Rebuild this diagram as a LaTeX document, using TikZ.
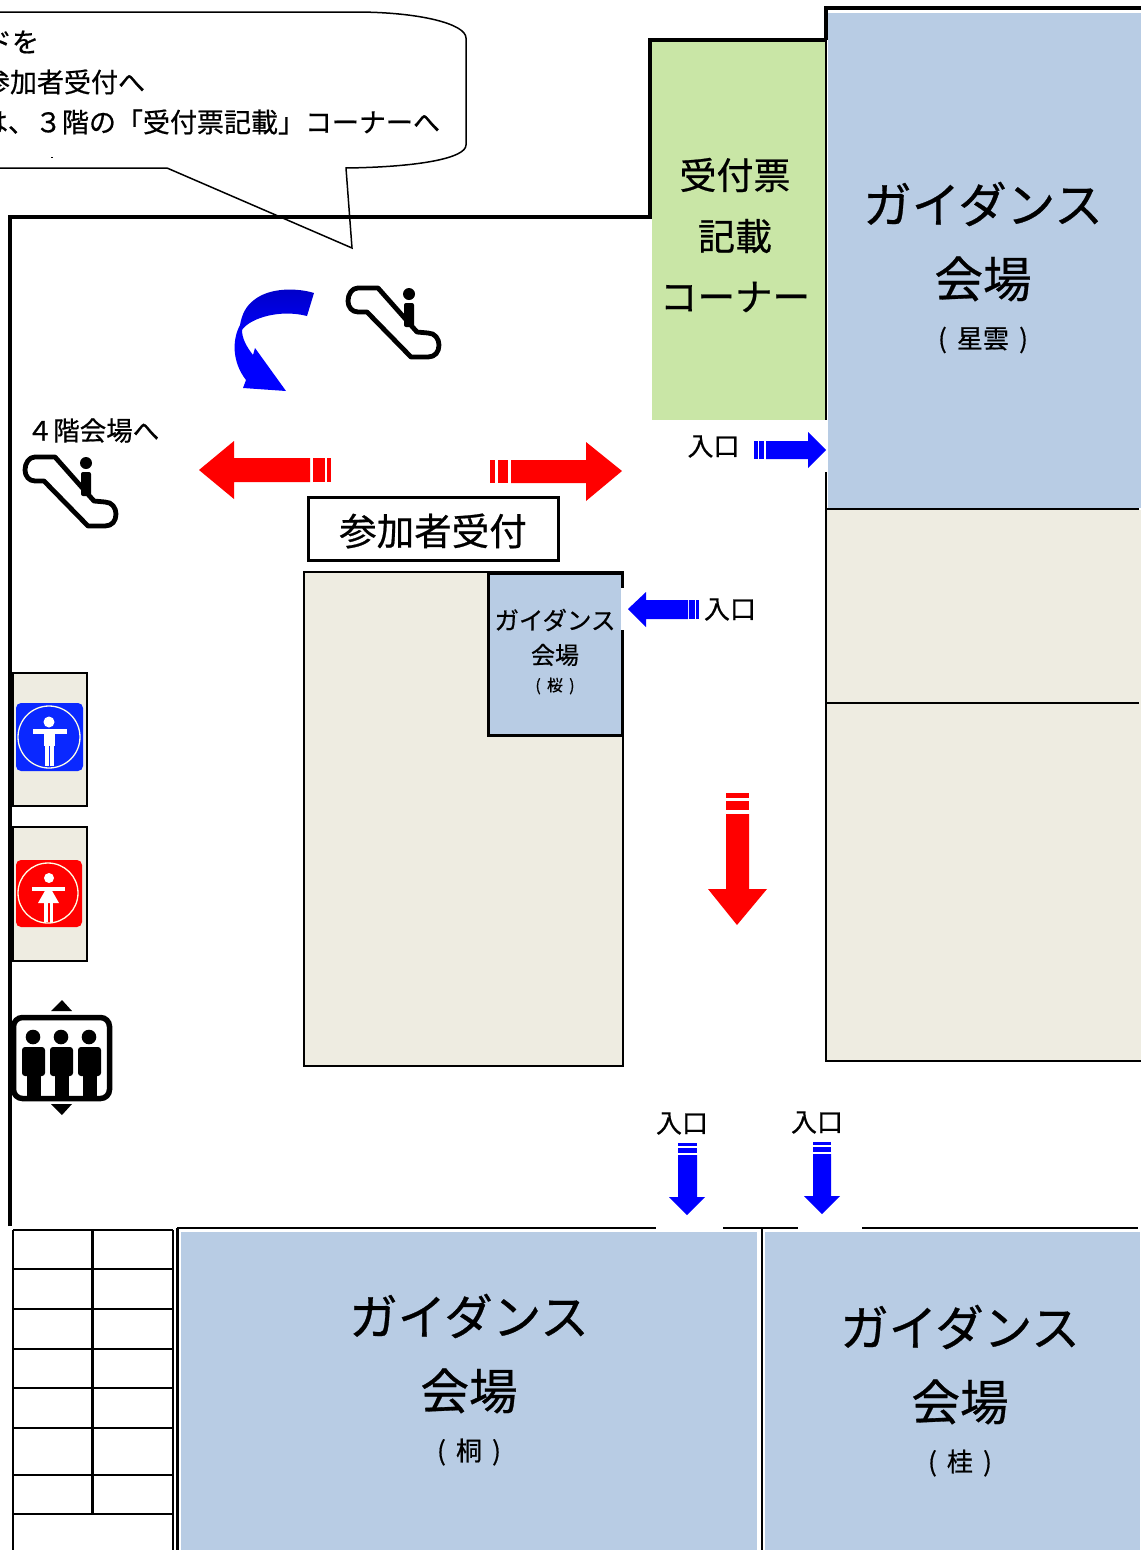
\documentclass[tikz,border=0pt]{standalone}
\usepackage{fontspec}
\setmainfont{Noto Sans CJK JP}[RawFeature={embolden=0.6}]
\newcommand{\fsz}[1]{\fontsize{#1pt}{#1pt}\selectfont}
\definecolor{hallblue}{HTML}{B8CCE4}
\definecolor{cornergreen}{HTML}{C9E6A6}
\definecolor{roombeige}{HTML}{EEECE1}
\definecolor{wcblue}{HTML}{0A28FF}
\definecolor{arrowblue}{HTML}{0000FF}
\definecolor{arrowred}{HTML}{FF0000}
\tikzset{
  wall/.style={draw=black,line width=3.5pt},
  thinwall/.style={draw=black,line width=1.8pt},
  roomline/.style={draw=black,line width=2.6pt},
  lbl/.style={inner sep=0pt,outer sep=0pt,text=black,align=center},
  bluefill/.style={fill=arrowblue},
  redfill/.style={fill=arrowred},
  whitefig/.style={fill=white},
  esc/.style={draw=black,line width=4.8pt,line join=round,line cap=round}
}
\newcommand{\escicon}[2]{%
  \begin{scope}[shift={(#1,#2)}]
    \draw[esc] (378,288) -- (417,332) -- (428,333)
      .. controls (435,333) and (439,339) .. (439,345)
      .. controls (439,352) and (435,357) .. (428,357)
      -- (411,357) -- (367,312) -- (358,312)
      .. controls (352,312) and (348,307) .. (348,301)
      .. controls (348,294) and (352,288) .. (358,288) -- cycle;
    \fill[black] (409,294) circle[radius=6];
    \fill[black,rounded corners=2pt] (404,303) rectangle (414,327);
  \end{scope}}
\begin{document}
\begin{tikzpicture}[x=1pt,y=-1pt]
\useasboundingbox (0,0) rectangle (1147,1550);
\fill[white] (0,0) rectangle (1147,1550);

% callout
\draw[black,line width=1.5pt] (-5,12) -- (355,12)
  .. controls (420,12) and (466,24) .. (466,38) -- (466,145)
  .. controls (466,158) and (420,167) .. (346,168)
  -- (352,248) -- (167,168) -- (-5,168);
\node[lbl,anchor=east] (c1) at (39,42) {\fsz{27}ドを};
\node[lbl,anchor=east] (c2) at (145,82) {\fsz{27}参加者受付へ};
\node[lbl,anchor=east] (c3) at (440,122) {\fsz{27}は、３階の「受付票記載」コーナーへ};
\fill[black] (51,156.5) rectangle (52.5,158);

% rooms
\fill[hallblue] (828,13) rectangle (1141,508);
\fill[cornergreen] (652,41) rectangle (826,420);
\fill[roombeige] (827,510) rectangle (1141,1061);
\fill[hallblue] (181,1232) rectangle (757,1550);
\fill[hallblue] (765,1232) rectangle (1140,1550);

% walls
\draw[wall] (10,1226) -- (10,217) -- (650,217) -- (650,40) -- (826,40);
\draw[wall] (1141,8) -- (826,8) -- (826,40);
\draw[thinwall] (826,40) -- (826,420);
\draw[thinwall] (826,472) -- (826,1061) -- (1141,1061);
\draw[black,line width=1.6pt] (827,509) -- (1139,509);
\draw[black,line width=1.6pt] (827,703) -- (1139,703);

% central block
\draw[roomline,fill=roombeige] (304,572) rectangle (623,1066);
\draw[draw=black,line width=3pt,fill=hallblue] (488,573) rectangle (622.5,735);
\fill[white] (621,588) rectangle (626,630);
\node[lbl,draw=black,line width=2.6pt,fill=white,minimum width=250pt,minimum height=63pt] (recept) at (433.5,529) {};
\node[lbl] (recepttext) at (433,531) {\fsz{37.5}参加者受付};

% bottom walls
\draw[black,line width=1.6pt] (177,1228) -- (656,1228);
\draw[black,line width=1.6pt] (723,1228) -- (798,1228);
\draw[black,line width=1.6pt] (862,1228) -- (1138,1228);
\draw[wall] (177.5,1228) -- (177.5,1550);
\draw[black,line width=2.4pt] (762,1228) -- (762,1550);

% stairs
\foreach \yy in {1230,1269,1309,1349,1388,1428,1475,1514}
  \draw[black,line width=2.7pt] (13,\yy) -- (173,\yy);
\draw[black,line width=2.7pt] (13,1230) -- (13,1550);
\draw[black,line width=2.7pt] (173,1230) -- (173,1550);
\draw[black,line width=2.7pt] (92.5,1230) -- (92.5,1514);

% labels
\node[lbl] (h1a) at (983,204) {\fsz{48.5}ガイダンス};
\node[lbl] (h1b) at (983,279) {\fsz{48.5}会場};
\node[lbl] (h1c) at (983,340) {\fsz{26}( \,星雲\, )};
\node[lbl] (g1) at (735,175) {\fsz{37}受付票};
\node[lbl] (g2) at (735,236) {\fsz{37}記載};
\node[lbl] (g3) at (735,297) {\fsz{37.5}コーナー};
\node[lbl] (h2a) at (555,620) {\fsz{24.5}ガイダンス};
\node[lbl] (h2b) at (555,655) {\fsz{24}会場};
\node[lbl] (h2c) at (555,686) {\fsz{16}( \,桜\, )};
\node[lbl] (h3a) at (469,1316) {\fsz{48.5}ガイダンス};
\node[lbl] (h3b) at (469,1391) {\fsz{48.5}会場};
\node[lbl] (h3c) at (469,1452) {\fsz{26}( \,桐\, )};
\node[lbl] (h4a) at (960,1327) {\fsz{48.5}ガイダンス};
\node[lbl] (h4b) at (960,1402) {\fsz{48.5}会場};
\node[lbl] (h4c) at (960,1463) {\fsz{26}( \,桂\, )};
\node[lbl] (e1) at (713.5,446.5) {\fsz{26}入口};
\node[lbl] (e2) at (730,609.5) {\fsz{26}入口};
\node[lbl] (e3) at (682,1123.5) {\fsz{26}入口};
\node[lbl] (e4) at (817,1122.5) {\fsz{26}入口};
\node[lbl] (f4) at (93,430.5) {\fsz{26.5}４階会場へ};

% red arrows
\fill[redfill] (199,470) -- (234,441) -- (234,458) -- (310,458) -- (310,482) -- (234,482) -- (234,499) -- cycle;
\fill[redfill] (313,458) rectangle (325,482);
\fill[redfill] (327,458) rectangle (331,482);
\fill[redfill] (622,471) -- (586,442) -- (586,460) -- (511,460) -- (511,483) -- (586,483) -- (586,501) -- cycle;
\fill[redfill] (490,460) rectangle (495,483);
\fill[redfill] (498,460) rectangle (508,483);
\fill[redfill] (737,925) -- (708,889) -- (726,889) -- (726,814) -- (749,814) -- (749,889) -- (767,889) -- cycle;
\fill[redfill] (726,793) rectangle (749,798);
\fill[redfill] (726,801) rectangle (749,810);

% blue arrows
\fill[bluefill] (826,450) -- (808,432) -- (808,441) -- (766,441) -- (766,459) -- (808,459) -- (808,468) -- cycle;
\fill[bluefill] (754,441) rectangle (757.5,459);
\fill[bluefill] (759,441) rectangle (764,459);
\fill[bluefill] (628,609) -- (646,592) -- (646,600) -- (688,600) -- (688,619) -- (646,619) -- (646,627) -- cycle;
\fill[bluefill] (689,600) rectangle (695,619);
\fill[bluefill] (696,600) rectangle (699,619);
\fill[bluefill] (687,1215) -- (669,1197) -- (678,1197) -- (678,1155) -- (697,1155) -- (697,1197) -- (705,1197) -- cycle;
\fill[bluefill] (678,1143) rectangle (697,1146);
\fill[bluefill] (678,1148) rectangle (697,1153);
\fill[bluefill] (822,1214) -- (804,1196) -- (813,1196) -- (813,1154) -- (831,1154) -- (831,1196) -- (840,1196) -- cycle;
\fill[bluefill] (813,1142) rectangle (831,1145);
\fill[bluefill] (813,1147) rectangle (831,1152);

% curved arrow
\shade[top color=arrowblue!78!black,bottom color=arrowblue,middle color=arrowblue]
  (314,293) .. controls (298,288) and (270,287) .. (254,300)
  .. controls (246,306) and (242,314) .. (240,325)
  .. controls (232,340) and (232,362) .. (246,380)
  -- (243,388) -- (286,391) -- (255,348) -- (253,355)
  .. controls (246,346) and (242,338) .. (242,330)
  .. controls (250,318) and (280,309) .. (307,316) -- cycle;

% escalators
\escicon{0}{0}
\escicon{-323}{169}

% WC boxes
\draw[roomline,fill=roombeige] (13,673) rectangle (87,806);
\draw[roomline,fill=roombeige] (13,827) rectangle (87,961);
\fill[wcblue,rounded corners=5pt] (16,703) rectangle (83,771);
\fill[arrowred,rounded corners=5pt] (16,860) rectangle (82,927);
\draw[white!90!yellow,line width=1.3pt] (49,737) circle[radius=31];
\draw[white!90!yellow,line width=1.3pt] (48,893) circle[radius=30];
\begin{scope}
  \fill[whitefig] (49,722) circle[radius=5.5];
  \fill[whitefig] (33,729) rectangle (67,734);
  \fill[whitefig] (44,729) rectangle (55,746);
  \fill[whitefig] (45,746) rectangle (48.7,766);
  \fill[whitefig] (50,746) rectangle (54,766);
  \fill[whitefig] (49,878) circle[radius=5];
  \fill[whitefig] (32,887) rectangle (65,891);
  \fill[whitefig] (46,889) -- (51,889) -- (59,903) -- (38,903) -- cycle;
  \fill[whitefig] (44,903) rectangle (48,922);
  \fill[whitefig] (50,903) rectangle (53,922);
\end{scope}

% elevator
\draw[black,line width=5.5pt,rounded corners=9pt,fill=white] (13.5,1017.5) rectangle (109.5,1098.5);
\foreach \dx in {0,28,56}{
  \fill[black] (33+\dx,1037) circle[radius=7.3];
  \fill[black,rounded corners=3pt] (22+\dx,1047) rectangle (45+\dx,1076);
  \fill[black] (27+\dx,1070) rectangle (41+\dx,1098);
}
\fill[black] (62,1000) -- (72,1011) -- (51,1011) -- cycle;
\fill[black] (62,1115) -- (72,1104) -- (51,1104) -- cycle;
\end{tikzpicture}
\end{document}
